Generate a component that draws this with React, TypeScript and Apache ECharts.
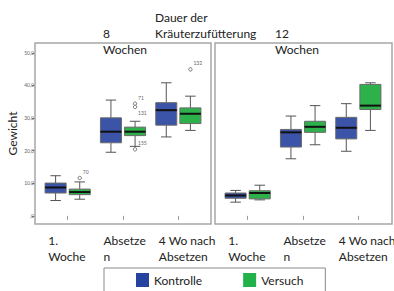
import React, { useEffect, useRef } from 'react';
import * as echarts from 'echarts';

const categories = ['1.\nWoche', 'Absetze\nn', '4 Wo nach\nAbsetzen'];
const yTicks = [0, 10, 20, 30, 40, 50];
const seriesNames = ['Kontrolle', 'Versuch'];
const panelTitles = ['8\nWochen', '12\nWochen'];
const mainTitle = 'Dauer der\nKräuterzufütterung';
const yName = 'Gewicht';

// [min, Q1, median, Q3, max] per category
const kontrolle8 = [
  [4.7, 7.0, 8.7, 10.05, 12.3],
  [19.5, 22.4, 25.8, 30.05, 35.5],
  [24.2, 27.8, 32.4, 34.7, 40.8],
];
const versuch8 = [
  [5.1, 6.5, 7.3, 8.2, 10.4],
  [21.3, 24.6, 25.8, 27.2, 29.0],
  [26.2, 28.3, 31.3, 33.1, 36.7],
];
const kontrolle12 = [
  [4.2, 5.4, 6.25, 7.0, 7.8],
  [17.5, 21.1, 25.6, 26.5, 30.6],
  [19.8, 23.6, 27.0, 30.2, 34.4],
];
const versuch12 = [
  [4.9, 5.2, 7.0, 7.7, 9.4],
  [21.8, 25.6, 27.3, 29.0, 33.8],
  [26.2, 32.6, 33.8, 40.3, 40.8],
];
// outliers (8 Wochen, Versuch): [category index, value]
const outlierPoints = [
  [0, 11.6],
  [1, 34.4],
  [1, 33.4],
  [1, 20.4],
  [2, 44.9],
];
const outlierIds = ['70', '71', '131', '155', '132'];
const outlierLabelBelow = ['131'];

const BLUE = '#3B54A7';
const GREEN = '#2DB24B';
const FONT = 'Lato';

const makeBoxRender = (side: number, fill: string) => (params: any, api: any) => {
  const cat = api.value(0);
  const band = api.size([1, 0])[0];
  const cx = api.coord([cat, 0])[0] + side * band * 0.218;
  const w = band * 0.38;
  const y = (i: number) => api.coord([cat, api.value(i)])[1];
  const yMin = y(1), yQ1 = y(2), yMed = y(3), yQ3 = y(4), yMax = y(5);
  const cap = w * 0.5;
  const wl = { stroke: '#555', lineWidth: 1 };
  return {
    type: 'group',
    children: [
      { type: 'line', shape: { x1: cx, y1: yMax, x2: cx, y2: yQ3 }, style: wl },
      { type: 'line', shape: { x1: cx, y1: yQ1, x2: cx, y2: yMin }, style: wl },
      { type: 'line', shape: { x1: cx - cap / 2, y1: yMax, x2: cx + cap / 2, y2: yMax }, style: wl },
      { type: 'line', shape: { x1: cx - cap / 2, y1: yMin, x2: cx + cap / 2, y2: yMin }, style: wl },
      {
        type: 'rect',
        shape: { x: cx - w / 2, y: yQ3, width: w, height: yQ1 - yQ3 },
        style: { fill, stroke: '#6a6a6a', lineWidth: 1 },
      },
      { type: 'line', shape: { x1: cx - w / 2, y1: yMed, x2: cx + w / 2, y2: yMed }, style: { stroke: '#111', lineWidth: 2 } },
    ],
  };
};

const outlierRender = (params: any, api: any) => {
  const cat = api.value(0);
  const band = api.size([1, 0])[0];
  const cx = api.coord([cat, 0])[0] + band * 0.218;
  const cy = api.coord([cat, api.value(1)])[1];
  const id = outlierIds[params.dataIndex];
  const below = outlierLabelBelow.includes(id);
  return {
    type: 'group',
    children: [
      { type: 'circle', shape: { cx, cy, r: 1.7 }, style: { fill: '#fff', stroke: '#555', lineWidth: 0.8 } },
      {
        type: 'text',
        x: cx + 3,
        y: below ? cy + 6 : cy - 6,
        style: { text: id, fontSize: 5, fill: '#666', verticalAlign: 'middle', fontFamily: FONT },
      },
    ],
  };
};

const toRows = (arr: number[][]) => arr.map((d, i) => [i, ...d]);

export default function App() {
  const ref = useRef<HTMLDivElement>(null);
  useEffect(() => {
    if (!ref.current) return;
    const chart = echarts.init(ref.current, undefined, { renderer: 'svg' });
    const yAxisBase = {
      type: 'value',
      min: -2.5,
      max: 53,
      splitLine: { show: false },
    };
    const xAxisBase = {
      type: 'category',
      data: categories,
      axisLine: { show: false },
      axisTick: { show: true, alignWithLabel: true, interval: 0, length: 4, lineStyle: { color: '#999' } },
      axisLabel: { show: false },
    };
    const boxSeries = (name: string, gi: number, side: number, fill: string, rows: number[][]) => ({
      type: 'custom',
      name,
      xAxisIndex: gi,
      yAxisIndex: gi,
      itemStyle: { color: fill },
      encode: { x: 0, y: [1, 2, 3, 4, 5] },
      renderItem: makeBoxRender(side, fill),
      data: toRows(rows),
    });
    const option: any = {
      animation: false,
      backgroundColor: '#fff',
      textStyle: { fontFamily: FONT },
      grid: [
        { left: 40, top: 43, width: 166, height: 181 },
        { left: 220, top: 43, width: 166, height: 181 },
      ],
      xAxis: [
        { ...xAxisBase, gridIndex: 0 },
        { ...xAxisBase, gridIndex: 1 },
      ],
      yAxis: [
        {
          ...yAxisBase,
          gridIndex: 0,
          offset: 5,
          axisLine: { show: false },
          axisTick: { show: true, customValues: yTicks, length: 3, lineStyle: { color: '#777' } },
          axisLabel: {
            customValues: yTicks,
            fontSize: 5,
            color: '#666',
            margin: 1,
            formatter: (v: number) => (v === 0 ? ',0' : v.toFixed(1).replace('.', ',')),
          },
          name: yName,
          nameLocation: 'middle',
          nameGap: 17,
          nameTextStyle: { fontSize: 12, color: '#222', fontFamily: FONT },
        },
        { ...yAxisBase, gridIndex: 1, show: false },
      ],
      legend: {
        left: 104,
        top: 268,
        padding: [5, 22, 30, 32],
        borderColor: '#8a8a8a',
        borderWidth: 1,
        itemWidth: 13,
        itemHeight: 14,
        itemGap: 41,
        icon: 'rect',
        selectedMode: false,
        textStyle: { fontSize: 12, color: '#222', fontFamily: FONT },
        data: [
          { name: seriesNames[0], itemStyle: { color: '#2643A0' } },
          { name: seriesNames[1], itemStyle: { color: '#22B24C' } },
        ],
      },
      series: [
        boxSeries(seriesNames[0], 0, -1, BLUE, kontrolle8),
        boxSeries(seriesNames[1], 0, 1, GREEN, versuch8),
        boxSeries(seriesNames[0], 1, -1, BLUE, kontrolle12),
        boxSeries(seriesNames[1], 1, 1, GREEN, versuch12),
        {
          type: 'custom',
          name: 'Ausreißer',
          xAxisIndex: 0,
          yAxisIndex: 0,
          encode: { x: 0, y: 1 },
          renderItem: outlierRender,
          data: outlierPoints,
          z: 5,
        },
      ],
    };
    chart.setOption(option);

    const elements: any[] = [
      { type: 'rect', shape: { x: 35, y: 43, width: 176, height: 181 }, style: { fill: 'none', stroke: '#a6a6a6', lineWidth: 1.5 }, z: 10 },
      { type: 'rect', shape: { x: 215, y: 43, width: 177, height: 181 }, style: { fill: 'none', stroke: '#a6a6a6', lineWidth: 1.5 }, z: 10 },
      {
        type: 'text', x: 155, y: 9,
        style: { text: mainTitle, fontSize: 12, lineHeight: 16, fill: '#222', fontFamily: FONT, verticalAlign: 'top' },
      },
    ];
    [0, 1].forEach((gi) => {
      const x0 = chart.convertToPixel({ xAxisIndex: gi }, 1) as any as number;
      elements.push({
        type: 'text', x: x0 - (gi === 0 ? 20 : 28), y: 25,
        style: { text: panelTitles[gi], fontSize: 12, lineHeight: 16, fill: '#222', fontFamily: FONT, verticalAlign: 'top' },
        z: 20,
      });
      categories.forEach((c, j) => {
        const x = chart.convertToPixel({ xAxisIndex: gi }, j) as any as number;
        elements.push({
          type: 'text', x: x - 19.5, y: 232,
          style: { text: c, fontSize: 12, lineHeight: 16, fill: '#222', fontFamily: FONT, verticalAlign: 'top', align: 'left' },
        });
      });
    });
    chart.setOption({ graphic: { elements } });
    return () => chart.dispose();
  }, []);
  return <div ref={ref} style={{ position: 'absolute', left: 0, top: 0, width: 394, height: 291 }} />;
}
